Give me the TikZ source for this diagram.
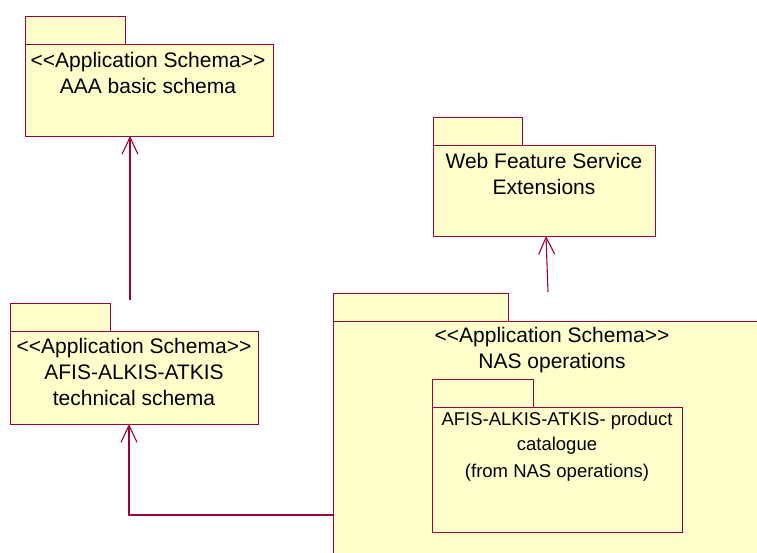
\documentclass[tikz,border=0pt]{standalone}
\usepackage{fontspec}
\setmainfont{Liberation Sans}
\usetikzlibrary{arrows.meta}
\definecolor{umlline}{RGB}{160,0,60}
\definecolor{umlfill}{RGB}{255,255,204}
\newcommand{\stlt}{<\kern0pt<}
\newcommand{\stgt}{>\kern0pt>}
\tikzset{
  pkg/.style={draw=umlline, fill=umlfill, line width=1.1pt, inner sep=0pt, anchor=north west},
  lbl/.style={align=center, inner sep=0pt, font=\fontsize{21}{26}\selectfont},
  lblsmall/.style={align=center, inner sep=0pt, font=\fontsize{18.5}{25}\selectfont},
  dep/.style={draw=umlline, line width=1.1pt, -{Straight Barb[length=17pt,width=16pt,line width=1.1pt]}},
}
\begin{document}
\begin{tikzpicture}[x=1pt,y=-1pt]
\useasboundingbox (0,0) rectangle (757,552);
\begin{scope}
\clip (0,0) rectangle (757,552);
% AAA basic schema
\node[pkg, minimum width=100pt, minimum height=28pt] (aaaTab) at (25,16) {};
\node[pkg, minimum width=248pt, minimum height=92pt] (aaa) at (25,44) {};
\node[lbl] (aaaTxt) at (148,73) {\stlt Application Schema\stgt\\AAA basic schema};
% AFIS-ALKIS-ATKIS technical schema
\node[pkg, minimum width=100pt, minimum height=28pt] (tecTab) at (10,303) {};
\node[pkg, minimum width=248pt, minimum height=93pt] (tec) at (10,331) {};
\node[lbl] (tecTxt) at (134,372) {\stlt Application Schema\stgt\\AFIS-ALKIS-ATKIS\\technical schema};
% Web Feature Service Extensions
\node[pkg, minimum width=89pt, minimum height=28pt] (wfsTab) at (433,117) {};
\node[pkg, minimum width=222pt, minimum height=91pt] (wfs) at (433,145) {};
\node[lbl] (wfsTxt) at (544,174) {Web Feature Service\\Extensions};
% NAS operations
\node[pkg, minimum width=175pt, minimum height=28pt] (nasTab) at (333,293) {};
\node[pkg, minimum width=440pt, minimum height=250pt] (nas) at (333,321) {};
\node[lbl] (nasTxt) at (552,350) {\stlt Application Schema\stgt\\NAS operations};
% inner product catalogue
\node[pkg, minimum width=101pt, minimum height=28pt] (catTab) at (432,379) {};
\node[pkg, minimum width=250pt, minimum height=125pt] (cat) at (432,407) {};
\node[lblsmall] (catTxt) at (557,433) {AFIS-ALKIS-ATKIS- product\\catalogue};
\node[lblsmall] (catFrom) at (557,473) {(from NAS operations)};
% dependencies
\coordinate (d1s) at (130,300);
\coordinate (d1e) at (130,136);
\draw[dep] (d1s) -- (d1e);
\coordinate (d2s) at (333,515);
\coordinate (d2c) at (129,515);
\coordinate (d2e) at (129,424);
\draw[dep] (d2s) -- (d2c) -- (d2e);
\coordinate (d3s) at (548,292);
\coordinate (d3e) at (546,236);
\draw[dep] (d3s) -- (d3e);
\end{scope}
\end{tikzpicture}
\end{document}
